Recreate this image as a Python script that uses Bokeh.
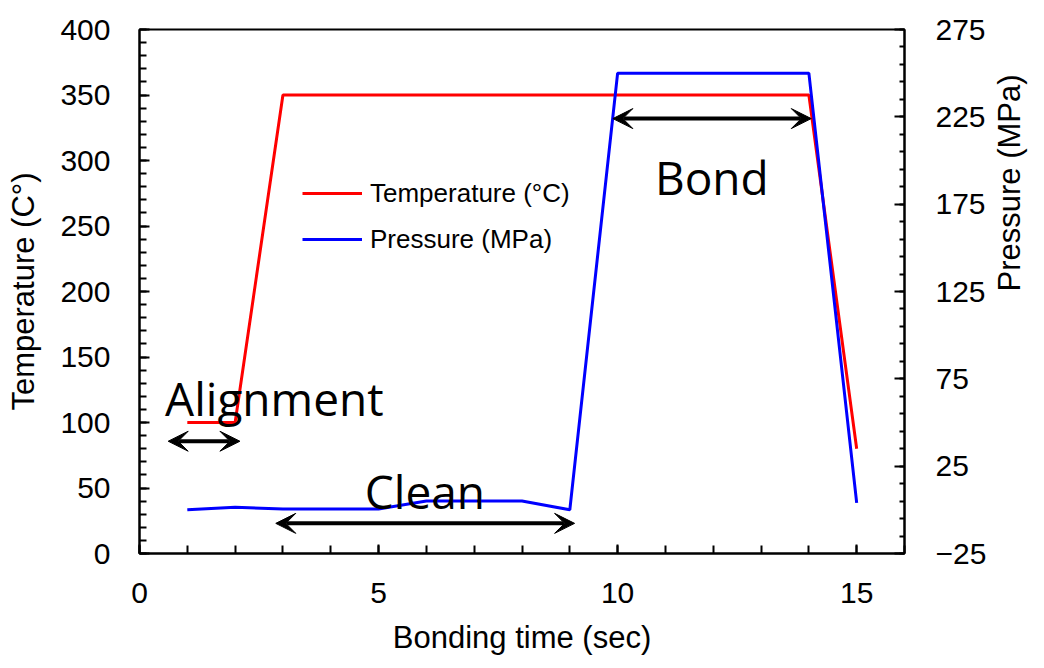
import math
from bokeh.plotting import figure
from bokeh.models import (Range1d, LinearAxis, FixedTicker, Legend, LegendItem,
                          Arrow, VeeHead, ColumnDataSource)
from bokeh.core.properties import value
from bokeh.embed import file_html
from bokeh.resources import INLINE

# ---- data ----
time_s = [1, 2, 3, 4, 5, 6, 7, 8, 9, 10, 11, 12, 13, 14, 15]
temperature_c = [100, 100, 350, 350, 350, 350, 350, 350, 350, 350, 350, 350, 350, 350, 80]
pressure_mpa = [0, 1.5, 0.5, 0.5, 0.5, 5, 5, 5, 0, 250, 250, 250, 250, 250, 4]

phase_names = ["Alignment", "Clean", "Bond"]
phase_start = [0.6, 2.85, 9.9]
phase_end = [2.1, 9.1, 14.05]

x_ticks = [0, 5, 10, 15]
left_ticks = [0, 50, 100, 150, 200, 250, 300, 350, 400]
right_ticks = [-25, 25, 75, 125, 175, 225, 275]

FONT = "Liberation Sans"

p = figure(frame_width=765, frame_height=524, output_backend="svg", toolbar_location=None,
           x_range=Range1d(0, 16), y_range=Range1d(0, 400),
           min_border_left=139, min_border_right=136, min_border_top=29,
           min_border_bottom=111)
p.extra_y_ranges = {"pressure": Range1d(-25, 275)}
p.grid.visible = False
p.outline_line_color = "black"
p.outline_line_width = 2
p.background_fill_color = "white"
p.border_fill_color = "white"

def style_axis(ax, label, major, minor):
    ax.axis_label = label
    ax.axis_label_text_font = FONT
    ax.axis_label_text_font_size = "31px"
    ax.axis_label_text_font_style = "normal"
    ax.axis_label_text_color = "black"
    ax.major_label_text_font = FONT
    ax.major_label_text_font_size = "30px"
    ax.major_label_text_color = "black"
    ax.axis_line_color = "black"
    ax.axis_line_width = 2
    ax.major_tick_line_color = "black"
    ax.minor_tick_line_color = "black"
    ax.major_tick_line_width = 2
    ax.minor_tick_line_width = 2
    ax.major_tick_in = major
    ax.major_tick_out = 0
    ax.minor_tick_in = minor
    ax.minor_tick_out = 0
    ax.major_label_standoff = 29

xa = p.xaxis[0]
xa.ticker = FixedTicker(ticks=x_ticks, minor_ticks=list(range(0, 17)))
style_axis(xa, "Bonding time (sec)", 9, 8)
xa.axis_label_standoff = 14

ya = p.yaxis[0]
ya.ticker = FixedTicker(ticks=left_ticks, minor_ticks=list(range(0, 401, 10)))
style_axis(ya, "Temperature (C°)", 10, 7)
ya.axis_label_standoff = 16

ra = LinearAxis(y_range_name="pressure")
ra.ticker = FixedTicker(ticks=right_ticks, minor_ticks=list(range(-25, 276, 10)))
style_axis(ra, "Pressure (MPa)", 10, 5)
ra.major_label_standoff = 31
ra.axis_label_standoff = 20
ra.axis_label_orientation = math.pi / 2
p.add_layout(ra, "right")

src = ColumnDataSource(dict(t=time_s, temp=temperature_c, pres=pressure_mpa))
r_temp = p.line("t", "temp", source=src, line_color="#ff0000", line_width=3)
r_pres = p.line("t", "pres", source=src, line_color="#0000ff", line_width=3,
                y_range_name="pressure")

legend = Legend(items=[LegendItem(label="Temperature (°C)", renderers=[r_temp]),
                       LegendItem(label="Pressure (MPa)", renderers=[r_pres])],
                location=(163, 294), orientation="vertical")
legend.label_text_font = FONT
legend.label_text_font_size = "26px"
legend.label_text_color = "black"
legend.glyph_width = 60
legend.glyph_height = 40
legend.label_height = 40
legend.spacing = 6
legend.padding = 0
legend.margin = 0
legend.label_standoff = 8
legend.border_line_color = None
legend.background_fill_alpha = 0
p.add_layout(legend, "center")

# phase arrows (on the temperature scale)
arrow_y = [85.7, 23, 332]
for s, e, yy in zip(phase_start, phase_end, arrow_y):
    p.add_layout(Arrow(x_start=s, y_start=yy, x_end=e, y_end=yy,
                       line_color="black", line_width=4,
                       start=VeeHead(size=20, fill_color="black", line_color="black", line_width=1),
                       end=VeeHead(size=20, fill_color="black", line_color="black", line_width=1)))

label_x = [2.82, 5.97, 11.97]
label_y = [118.5, 47.4, 287.6]
p.text(x=label_x, y=label_y, text=phase_names, text_font=value("Open Sans"),
       text_font_size="46px", text_color="black", text_align="center",
       text_baseline="alphabetic")

open("out.html", "w").write(file_html(p, INLINE))
